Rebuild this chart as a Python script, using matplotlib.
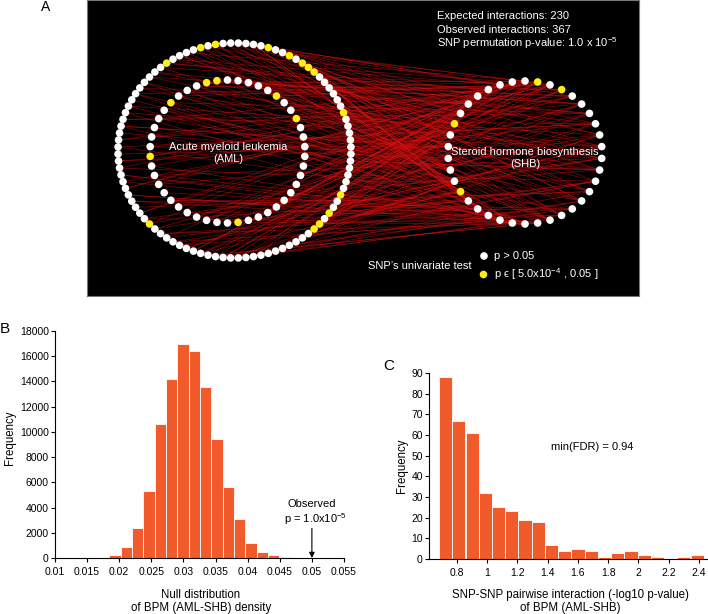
import numpy as np
import matplotlib
matplotlib.use("Agg")
import matplotlib.pyplot as plt
from matplotlib.collections import LineCollection

plt.rcParams['font.family'] = ['Liberation Sans', 'DejaVu Sans']
plt.rcParams['mathtext.fontset'] = 'custom'
plt.rcParams['mathtext.rm'] = 'Liberation Sans'
plt.rcParams['mathtext.it'] = 'Liberation Sans'
plt.rcParams['mathtext.default'] = 'regular'

# --- panel A : SNP rings (AML outer/inner, SHB) and SNP-SNP interactions
n_outer, n_inner, n_shb = 96, 46, 38
yellow_outer = [2, 4, 9, 35, 59, 60, 62, 65, 77, 84, 85, 86, 88, 91]
yellow_inner = [1, 2, 6, 12, 24, 38, 41]
yellow_shb = [7, 13, 35, 37]

# AML node index (0-95 outer ring, 96-141 inner ring) -> SHB node index
aml_src = [3, 17, 42, 88, 101, 130, 65, 12, 77, 54, 9, 120, 33, 91, 140, 26, 60, 108, 47, 83,
           5, 71, 115, 38, 94, 19, 126, 57, 2, 99, 68, 44, 136, 21, 80, 112, 7, 50, 133, 30,
           86, 63, 104, 15, 74, 123, 40, 97, 58, 1, 118, 35, 89, 27, 139, 66, 11, 106, 52, 79,
           23, 128, 45, 93, 70, 14, 110, 61, 37, 84, 131, 8, 55, 102, 29, 76, 121, 48, 95, 18,
           67, 137, 41, 82, 4, 113, 59, 32, 90, 125, 16, 73, 100, 46, 135, 24, 62, 87, 107, 10,
           51, 119, 36, 78, 141, 20, 69, 96, 43, 85, 127, 6, 56, 111, 31, 92, 134, 22, 75, 103,
           49, 0, 116, 64, 39, 81, 129, 13, 53, 98, 28, 72, 138, 34, 109, 57, 25, 88, 122, 43,
           68, 9, 117, 79, 30, 95, 132, 18, 61, 105, 47, 84, 124, 2, 70, 114, 37, 91, 15, 66,
           12, 99, 44, 130, 81, 26, 63, 108, 7, 54, 139, 35, 77, 119, 20, 86, 58, 101, 40, 93,
           0, 45, 92, 110, 71, 33, 128, 80, 15, 61, 104, 27, 94, 137, 50, 8, 74, 121, 39, 86,
           22, 67, 113, 3, 89, 126, 56, 11, 98, 42, 135, 78, 19, 64, 100, 31, 83, 118, 5, 72,
           14, 58, 102, 36, 87, 129, 47, 6, 93, 116, 25, 70, 138, 52, 81, 10, 107, 41, 96, 63,
           28, 75, 120, 1, 90, 131, 48, 17, 64, 109, 34, 85, 140, 57, 4, 99, 23, 78, 125, 46,
           69, 13, 111, 38, 82, 127, 55, 94, 7, 103, 29, 76, 134, 20, 87, 117, 43, 60, 132, 92]
shb_dst = [12, 30, 5, 21, 36, 8, 17, 27, 2, 14, 33, 19, 6, 25, 11, 37, 22, 0, 29, 16,
           9, 34, 23, 3, 18, 31, 7, 26, 13, 35, 1, 20, 28, 10, 32, 15, 24, 4, 37, 19,
           6, 29, 11, 36, 22, 2, 17, 33, 8, 25, 14, 30, 0, 21, 12, 27, 5, 35, 18, 9,
           31, 3, 24, 16, 34, 10, 28, 1, 20, 13, 36, 7, 23, 32, 4, 26, 15, 37, 11, 29,
           18, 2, 33, 8, 21, 14, 30, 25, 5, 36, 12, 27, 19, 0, 34, 9, 22, 16, 31, 3,
           24, 13, 28, 6, 35, 17, 1, 32, 10, 26, 20, 37, 4, 29, 15, 23, 8, 33, 11, 18,
           2, 27, 14, 36, 21, 7, 30, 25, 12, 0, 34, 19, 5, 28, 16, 31, 9, 22, 37, 13,
           26, 3, 35, 10, 20, 6, 29, 17, 32, 24, 1, 15, 36, 11, 27, 4, 23, 30, 18, 8,
           33, 21, 0, 14, 28, 12, 37, 5, 25, 19, 31, 2, 16, 35, 9, 24, 7, 29, 13, 34,
           20, 6, 31, 15, 27, 0, 36, 11, 24, 33, 3, 19, 29, 8, 22, 35, 14, 1, 26, 10,
           37, 12, 23, 30, 2, 17, 9, 28, 34, 5, 21, 13, 32, 25, 7, 18, 36, 4, 16, 31,
           5, 26, 18, 33, 11, 2, 30, 22, 14, 37, 8, 27, 19, 35, 0, 24, 10, 32, 16, 29,
           17, 3, 28, 21, 36, 9, 25, 13, 31, 6, 20, 1, 34, 12, 27, 4, 23, 15, 37, 7,
           32, 19, 0, 26, 14, 33, 8, 22, 29, 11, 36, 18, 3, 28, 24, 6, 35, 13, 21, 2]

# --- panel B : null distribution of BPM density
null_centers = [0.01934, 0.02110, 0.02287, 0.02463, 0.02640, 0.02816, 0.02992, 0.03169,
                0.03345, 0.03522, 0.03698, 0.03875, 0.04051, 0.04228, 0.04404, 0.04580]
null_counts = [200, 840, 2370, 5330, 10660, 14220, 16960, 16380,
               13560, 9420, 5650, 3110, 1210, 500, 210, 50]
observed = 0.05

# --- panel C : pairwise interaction -log10 p-values
pair_centers = [0.727, 0.814, 0.902, 0.989, 1.077, 1.164, 1.251, 1.339, 1.426, 1.514,
                1.601, 1.688, 1.776, 1.863, 1.951, 2.038, 2.125, 2.213, 2.300, 2.388]
pair_counts = [88, 67, 61, 32, 25, 23, 19, 18, 7, 4, 5, 4, 1, 3, 4, 2, 1, 0, 1, 2]

W, H = 708, 614
bar_color = '#F15A2B'
white, yellow = '#FFFFFF', '#FFEE10'


def frac(x0, y0, x1, y1):
    return [x0 / W, 1 - y1 / H, (x1 - x0) / W, (y1 - y0) / H]


def ring(cx, cy, rx, ry, n, start):
    t = np.deg2rad(start + 360.0 * np.arange(n) / n)
    return np.column_stack([cx + rx * np.cos(t), cy - ry * np.sin(t)])


def colors(n, yel):
    return [yellow if i in yel else white for i in range(n)]


fig = plt.figure(figsize=(W / 100, H / 100), dpi=100)

# ---------------- A
ax = fig.add_axes(frac(87, 0, 639, 296))
ax.set_facecolor('black')
ax.set_xlim(87, 639)
ax.set_ylim(296, 0)
ax.set_xticks([])
ax.set_yticks([])
for s in ax.spines.values():
    s.set_color('#777777')
    s.set_linewidth(0.8)

outer = ring(234.5, 150.5, 116.5, 107.5, n_outer, 91.875)
inner = ring(227.5, 151.5, 77.5, 71.5, n_inner, 90)
shb = ring(525, 152.5, 77, 71.5, n_shb, 90)
aml = np.vstack([outer, inner])

segs = [[aml[a], shb[b]] for a, b in zip(aml_src, shb_dst)]
ax.add_collection(LineCollection(segs, colors='#d81010', linewidths=0.5, alpha=0.55, zorder=1))

ax.scatter(outer[:, 0], outer[:, 1], s=30, c=colors(n_outer, yellow_outer), lw=0, zorder=3)
ax.scatter(inner[:, 0], inner[:, 1], s=30, c=colors(n_inner, yellow_inner), lw=0, zorder=3)
ax.scatter(shb[:, 0], shb[:, 1], s=30, c=colors(n_shb, yellow_shb), lw=0, zorder=3)

ax.text(228, 152.5, 'Acute myeloid leukemia\n(AML)', color='white', fontsize=8,
        ha='center', va='center', linespacing=1.25, zorder=4)
ax.text(525, 157.7, 'Steroid hormone biosynthesis\n(SHB)', color='white', fontsize=8,
        ha='center', va='center', linespacing=1.25, zorder=4)

ax.text(437, 16, 'Expected interactions: 230', color='white', fontsize=8, va='center')
ax.text(437, 30, 'Observed interactions: 367', color='white', fontsize=8, va='center')
ax.text(437, 43.5, 'SNP permutation p-value: 1.0 x 10$^{-5}$', color='white', fontsize=8, va='center')

ax.scatter([484, 483.5], [256, 274.5], s=30, c=[white, yellow], lw=0, zorder=3)
ax.text(472, 265.7, 'SNP\u2019s univariate test', color='white', fontsize=8, ha='right', va='center')
ax.text(494, 256, 'p > 0.05', color='white', fontsize=8, va='center')
ax.text(494, 274.5, 'p \u03f5 [ 5.0x10$^{-4}$ , 0.05 ]', color='white', fontsize=8, va='center')


def style(a):
    for side in ['top', 'right']:
        a.spines[side].set_visible(False)
    for side in ['left', 'bottom']:
        a.spines[side].set_linewidth(0.8)
    a.tick_params(direction='out', length=3, width=0.8, labelsize=7.5)
    a.tick_params(axis='y', pad=1.5)


# ---------------- B
axb = fig.add_axes(frac(55, 331, 344, 558))
bw = np.diff(null_centers).mean()
axb.bar(null_centers, null_counts, width=bw, color=bar_color, edgecolor='white', linewidth=0.6)
axb.set_xlim(0.01, 0.055)
axb.set_ylim(0, 18000)
axb.set_xticks(np.arange(0.01, 0.0551, 0.005))
axb.set_xticklabels(['%g' % round(v, 3) for v in np.arange(0.01, 0.0551, 0.005)])
axb.set_yticks(np.arange(0, 18001, 2000))
style(axb)
axb.annotate('', xy=(observed, 0), xytext=(observed, 2350),
             arrowprops=dict(arrowstyle='-|>', color='black', lw=0.8, mutation_scale=8,
                             shrinkA=0, shrinkB=0))
axb.text(observed, 4270, 'Observed', fontsize=8, ha='center', va='center')
axb.text(observed + 0.0005, 3080, 'p = 1.0x10$^{-5}$', fontsize=8, ha='center', va='center')

# ---------------- C
axc = fig.add_axes(frac(429, 373, 707, 559))
cw = np.diff(pair_centers).mean()
axc.bar(pair_centers, pair_counts, width=cw, color=bar_color, edgecolor='white', linewidth=0.6)
axc.set_xlim(0.617, 2.453)
axc.set_ylim(0, 90)
cticks = [0.8, 1.0, 1.2, 1.4, 1.6, 1.8, 2.0, 2.2, 2.4]
axc.set_xticks(cticks)
axc.set_xticklabels(['%g' % v for v in cticks])
axc.set_yticks(np.arange(0, 91, 10))
style(axc)
axc.text(1.695, 54, 'min(FDR) = 0.94', fontsize=8, ha='center', va='center')

# labels
fig.text(201 / W, 1 - 601.5 / H, 'Null distribution\nof BPM (AML-SHB) density',
         fontsize=8.3, ha='center', va='center', linespacing=1.15)
fig.text(570 / W, 1 - 601.5 / H, 'SNP-SNP pairwise interaction (-log10 p-value)\nof BPM (AML-SHB)',
         fontsize=8.3, ha='center', va='center', linespacing=1.15)
fig.text(10 / W, 1 - 438 / H, 'Frequency', fontsize=8.3, rotation=90, ha='center', va='center')
fig.text(402 / W, 1 - 466 / H, 'Frequency', fontsize=8.3, rotation=90, ha='center', va='center')

fig.text(46 / W, 1 - 6.7 / H, 'A', fontsize=10, ha='center', va='center')
fig.text(5 / W, 1 - 329 / H, 'B', fontsize=11, ha='center', va='center')
fig.text(388.5 / W, 1 - 366.5 / H, 'C', fontsize=11, ha='center', va='center')

fig.savefig('out.png', dpi=100, facecolor='white')
